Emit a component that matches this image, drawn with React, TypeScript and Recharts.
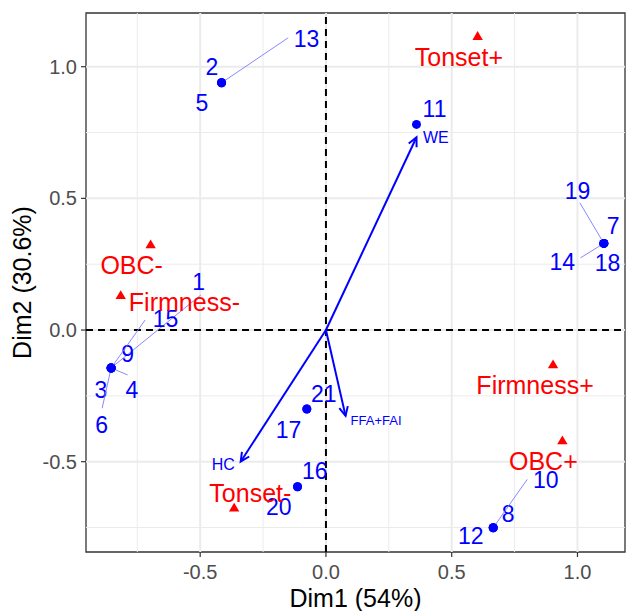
import React from 'react';
import {
  ScatterChart,
  Scatter,
  XAxis,
  YAxis,
  ReferenceLine,
  ReferenceArea,
} from 'recharts';

const FONT = '"Liberation Sans", Arial, Helvetica, sans-serif';
const BLUE = '#0000FF';
const RED = '#FF0000';
const SEGMENT = '#7A7AFF';

// Individuals (coordinates on Dim1 / Dim2)
const indLabels = ['1', '2', '3', '4', '5', '6', '7', '8', '9', '10', '11', '12', '13', '14', '15', '16', '17', '18', '19', '20', '21'];
const indDim1 = [-0.854, -0.415, -0.854, -0.854, -0.415, -0.854, 1.105, 0.665, -0.854, 0.665, 0.36, 0.665, -0.415, 1.105, -0.854, -0.113, -0.076, 1.105, 1.105, -0.113, -0.076];
const indDim2 = [-0.144, 0.939, -0.144, -0.144, 0.939, -0.144, 0.329, -0.751, -0.144, -0.751, 0.781, -0.751, 0.939, 0.329, -0.144, -0.595, -0.3, 0.329, 0.329, -0.595, -0.3];

// Categories of the qualitative variables
const catLabels = ['Tonset+', 'Tonset-', 'Firmness+', 'Firmness-', 'OBC+', 'OBC-'];
const catDim1 = [0.603, -0.365, 0.903, -0.816, 0.94, -0.697];
const catDim2 = [1.114, -0.677, -0.133, 0.13, -0.422, 0.323];

// Quantitative variables (arrows from the origin)
const varLabels = ['WE', 'HC', 'FFA+FAI'];
const varDim1 = [0.36, -0.339, 0.078];
const varDim2 = [0.732, -0.5, -0.326];

// Axis ticks and grid
const xTicks = [-0.5, 0, 0.5, 1.0];
const yTicks = [-0.5, 0, 0.5, 1.0];
const xMinor = [-0.75, -0.25, 0.25, 0.75];
const yMinor = [-0.75, -0.25, 0.25, 0.75];
const xDomain: [number, number] = [-0.954, 1.189];
const yDomain: [number, number] = [-0.843, 1.204];

// Repelled label placement: [dx, dy] to label centre, optional [sx, sy] segment end (pixels)
const indPlacement: Record<string, number[]> = {
  '1': [87.4, -86.3, 89.7, -73],
  '2': [-9.7, -16],
  '3': [-10.3, 21.3],
  '4': [20.7, 22, 16.4, 7],
  '5': [-19.7, 19.6],
  '6': [-9.6, 57, -9, 40.3],
  '7': [9.3, -17.3],
  '8': [15, -14.4],
  '9': [16.4, -14.7],
  '10': [52.5, -48.5, 34, -48.4],
  '11': [18, -16],
  '12': [-22.5, 7.6],
  '13': [85, -44.4, 66.6, -45],
  '14': [-41.7, 18.4, -23.3, 14.4],
  '15': [54.4, -49.7, 34, -48],
  '16': [17.3, -15.7],
  '17': [-18.3, 20.3],
  '18': [3.7, 19.4],
  '19': [-26.3, -52.3, -24, -40.6],
  '20': [-18.7, 20],
  '21': [17, -15],
};

const catPlacement: Record<string, number[]> = {
  'Tonset+': [-18.7, 20],
  'Tonset-': [16.2, -15],
  'Firmness+': [-18, 20],
  'Firmness-': [63.7, 6],
  'OBC+': [-19, 19.7],
  'OBC-': [-19, 20],
};

const varPlacement: Record<string, { dx: number; dy: number; size: number; len?: number }> = {
  WE: { dx: 19.4, dy: -0.5, size: 16 },
  HC: { dx: -17.4, dy: 2.5, size: 16 },
  'FFA+FAI': { dx: 30.5, dy: 4, size: 13, len: 51 },
};

const indData = indLabels.map((id, i) => ({ x: indDim1[i], y: indDim2[i], id }));
const catData = catLabels.map((id, i) => ({ x: catDim1[i], y: catDim2[i], id }));

const IndividualMark = (props: any) => {
  const { cx, cy, payload } = props;
  const place = indPlacement[payload.id] || [0, -16];
  const [dx, dy, sx, sy] = place;
  return (
    <g>
      {sx !== undefined && (
        <line x1={cx} y1={cy} x2={cx + sx} y2={cy + sy} stroke={SEGMENT} strokeWidth={0.9} />
      )}
      <circle cx={cx} cy={cy} r={4.5} fill={BLUE} />
      <text
        x={cx + dx}
        y={cy + dy}
        dy="0.36em"
        textAnchor="middle"
        fill={BLUE}
        fontSize={23}
        fontFamily={FONT}
      >
        {payload.id}
      </text>
    </g>
  );
};

const CategoryMark = (props: any) => {
  const { cx, cy, payload } = props;
  const [dx, dy] = catPlacement[payload.id] || [0, 20];
  const pts = `${cx},${cy - 5.6} ${cx - 5.2},${cy + 3.2} ${cx + 5.2},${cy + 3.2}`;
  return (
    <g>
      <polygon points={pts} fill={RED} />
      <text
        x={cx + dx}
        y={cy + dy}
        dy="0.36em"
        textAnchor="middle"
        fill={RED}
        fontSize={25}
        fontFamily={FONT}
      >
        {payload.id}
      </text>
    </g>
  );
};

const makeArrow = (name: string) => (p: any) => {
  const { x1, y1, x2, y2 } = p;
  const ang = Math.atan2(y2 - y1, x2 - x1);
  const L = 10;
  const a = Math.PI / 7;
  const hx1 = x2 - L * Math.cos(ang - a);
  const hy1 = y2 - L * Math.sin(ang - a);
  const hx2 = x2 - L * Math.cos(ang + a);
  const hy2 = y2 - L * Math.sin(ang + a);
  const pl = varPlacement[name];
  return (
    <g>
      <line x1={x1} y1={y1} x2={x2} y2={y2} stroke={BLUE} strokeWidth={2} />
      <polyline
        points={`${hx1},${hy1} ${x2},${y2} ${hx2},${hy2}`}
        fill="none"
        stroke={BLUE}
        strokeWidth={2}
      />
      <text
        x={x2 + pl.dx}
        y={y2 + pl.dy}
        dy="0.36em"
        textAnchor="middle"
        fill={BLUE}
        fontSize={pl.size}
        fontFamily={FONT}
        textLength={pl.len}
        lengthAdjust={pl.len ? 'spacingAndGlyphs' : undefined}
      >
        {name}
      </text>
    </g>
  );
};

const xTitle = (props: any) => {
  const vb = props.viewBox || { x: 86, y: 552, width: 539, height: 59 };
  return (
    <text
      x={vb.x + vb.width / 2}
      y={vb.y + 55}
      textAnchor="middle"
      fill="#000"
      fontSize={25}
      fontFamily={FONT}
    >
      Dim1 (54%)
    </text>
  );
};

const yTitle = (props: any) => {
  const vb = props.viewBox || { x: 0, y: 13, width: 86, height: 539 };
  const cx = vb.x + 31;
  const cy = vb.y + vb.height / 2;
  return (
    <text
      x={cx}
      y={cy}
      transform={`rotate(-90, ${cx}, ${cy})`}
      textAnchor="middle"
      fill="#000"
      fontSize={25}
      fontFamily={FONT}
    >
      Dim2 (30.6%)
    </text>
  );
};

const fmt = (v: number) => v.toFixed(1);

export default function App() {
  return (
    <div style={{ position: 'absolute', left: 0, top: 0, background: '#fff' }}>
      <ScatterChart width={626} height={611} margin={{ top: 13, right: 1, bottom: 0, left: 0 }}>
        <XAxis
          type="number"
          dataKey="x"
          domain={xDomain}
          ticks={xTicks}
          tickFormatter={fmt}
          allowDataOverflow
          height={59}
          axisLine={false}
          tickSize={5}
          tickMargin={8}
          tickLine={{ stroke: '#333333', strokeWidth: 1.2 }}
          tick={{ fill: '#4D4D4D', fontSize: 20, fontFamily: FONT }}
          label={xTitle}
        />
        <YAxis
          type="number"
          dataKey="y"
          domain={yDomain}
          ticks={yTicks}
          tickFormatter={fmt}
          allowDataOverflow
          width={86}
          axisLine={false}
          tickSize={5}
          tickMargin={4}
          tickLine={{ stroke: '#333333', strokeWidth: 1.2 }}
          tick={{ fill: '#4D4D4D', fontSize: 20, fontFamily: FONT }}
          label={yTitle}
        />
        {xMinor.map((v) => (
          <ReferenceLine key={`xm${v}`} x={v} stroke="#EBEBEB" strokeWidth={1} />
        ))}
        {yMinor.map((v) => (
          <ReferenceLine key={`ym${v}`} y={v} stroke="#EBEBEB" strokeWidth={1} />
        ))}
        {xTicks.map((v) => (
          <ReferenceLine key={`xM${v}`} x={v} stroke="#EBEBEB" strokeWidth={2} />
        ))}
        {yTicks.map((v) => (
          <ReferenceLine key={`yM${v}`} y={v} stroke="#EBEBEB" strokeWidth={2} />
        ))}
        <ReferenceLine x={0} stroke="#000" strokeWidth={2} strokeDasharray="7 5" />
        <ReferenceLine y={0} stroke="#000" strokeWidth={2} strokeDasharray="7 5" />
        <ReferenceArea
          x1={xDomain[0]}
          x2={xDomain[1]}
          y1={yDomain[0]}
          y2={yDomain[1]}
          fill="none"
          fillOpacity={0}
          stroke="#333333"
          strokeWidth={1.3}
        />
        {varLabels.map((name, i) => (
          <ReferenceLine
            key={name}
            segment={[
              { x: 0, y: 0 },
              { x: varDim1[i], y: varDim2[i] },
            ]}
            shape={makeArrow(name)}
            ifOverflow="visible"
          />
        ))}
        <Scatter data={indData} shape={IndividualMark} isAnimationActive={false} />
        <Scatter data={catData} shape={CategoryMark} isAnimationActive={false} />
      </ScatterChart>
    </div>
  );
}
